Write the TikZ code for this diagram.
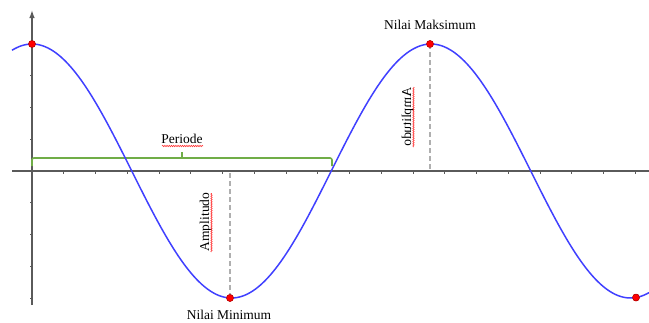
\documentclass[tikz,border=0pt]{standalone}
\usepackage{fontspec}
\setmainfont{Liberation Serif}
\usetikzlibrary{arrows.meta,decorations.pathmorphing}
\definecolor{curveblue}{RGB}{64,64,255}
\definecolor{bracegreen}{RGB}{112,173,71}
\definecolor{dashgray}{RGB}{175,175,175}
\definecolor{axisgray}{RGB}{90,90,90}
\definecolor{dotred}{RGB}{170,0,0}
\begin{document}
\begin{tikzpicture}[x=1pt,y=-1pt,
  lbl/.style={font=\fontsize{13.5}{16}\selectfont, inner sep=0pt},
  pt/.style={circle, fill=red, draw=dotred, line width=0.4pt, minimum size=7pt, inner sep=0pt},
  spell/.style={draw=red!80, line width=0.6pt, decorate, decoration={snake, amplitude=0.7pt, segment length=2.2pt}},
  ampline/.style={draw=dashgray, line width=1.3pt, dash pattern=on 5pt off 3pt},
  axisline/.style={draw=axisgray, line width=1.3pt},
  tickmark/.style={draw=axisgray, line width=0.8pt},
  bracepath/.style={draw=bracegreen, line width=1.6pt, rounded corners=2pt},
  curve/.style={draw=curveblue, line width=1.5pt}]
\useasboundingbox (0,0) rectangle (649,322);
% amplitude guides
\coordinate (amin) at (230,171);
\coordinate (amax) at (430,171);
\node[pt] (pmin) at (230,{171-127*cos(deg((230-32)/63.5))}) {};
\node[pt] (pmax) at (430,{171-127*cos(deg((430-32)/63.5))}) {};
\node[pt] (pstart) at (32,44) {};
\node[pt] (pend) at (636,{171-127*cos(deg((636-32)/63.5))}) {};
\draw[ampline] (pmin.center) -- (amin);
\draw[ampline] (pmax.center) -- (amax);
% axes
\coordinate (xl) at (12,171);
\coordinate (xr) at (649,171);
\coordinate (yb) at (32,305);
\coordinate (yt) at (32,11);
\draw[axisline] (xl) -- (xr);
\draw[axisline, -{Latex[length=8pt,width=5.5pt]}, shorten >=-1pt] (yb) -- (yt);
\foreach \k in {1,...,19} \draw[tickmark] ({32+31.75*\k},171) -- ++(0,2.5);
\foreach \k in {-4,...,-1,1,2,3,4} \draw[tickmark] (32,{171-31.75*\k}) -- ++(-2.5,0);
% period bracket
\coordinate (bl) at (32,166);
\coordinate (br) at (332,166);
\coordinate (bm) at (182,158);
\coordinate (bt) at (182,152);
\draw[bracepath] (bl) -- (32,158) -- (332,158) -- (br);
\draw[draw=bracegreen, line width=1.6pt] (bm) -- (bt);
% curve
\draw[curve, domain=12:649, samples=250] plot (\x,{171-127*cos(deg((\x-32)/63.5))});
% redraw dots on top
\node[pt] at (pmin) {};
\node[pt] at (pmax) {};
\node[pt] at (pstart) {};
\node[pt] at (pend) {};
% labels
\node[lbl, anchor=base] (per) at (182,143) {Periode};
\node[lbl, anchor=base] (lmax) at (430,29) {Nilai Maksimum};
\node[lbl, anchor=base] (lmin) at (229,319) {Nilai Minimum};
\node[lbl, anchor=base, rotate=90] (ampl) at (209,222) {Amplitudo};
\node[lbl, anchor=base, rotate=90, xscale=-1] (ampr) at (411,117) {Amplitudo};
\draw[spell] (162,146) -- (203,146);
\draw[spell] (211.5,252) -- (211.5,193);
\draw[spell] (413.5,87) -- (413.5,147);
\end{tikzpicture}
\end{document}
